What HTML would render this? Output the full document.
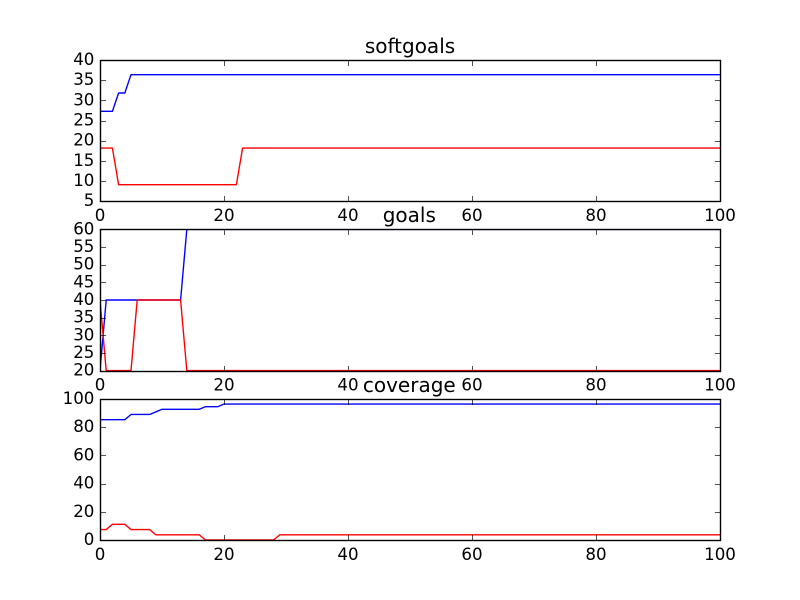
<!DOCTYPE html>
<html>
<head>
<meta charset="utf-8">
<title>softgoals, goals, coverage</title>
<style>
html,body{margin:0;padding:0;background:#fff;width:800px;height:600px;overflow:hidden}
svg{display:block}
text{font-family:"DejaVu Sans",sans-serif;fill:#000}
.tick-label{font-size:16.67px}
.title{font-size:20px;text-anchor:middle}
</style>
</head>
<body>
<svg id="chart" xmlns="http://www.w3.org/2000/svg" width="800" height="600" viewBox="0 0 800 600">
<rect width="800" height="600" fill="#fff"/>
<text class="title" x="410" y="53">softgoals</text>
<text class="title" x="409.3" y="222">goals</text>
<text class="title" x="409.3" y="392">coverage</text>
</svg>
<script>
// X axis
const xCategories = [0,1,2,3,4,5,6,7,8,9,10,11,12,13,14,15,16,17,18,19,20,21,22,23,24,25,26,27,28,29,30,31,32,33,34,35,36,37,38,39,40,41,42,43,44,45,46,47,48,49,50,51,52,53,54,55,56,57,58,59,60,61,62,63,64,65,66,67,68,69,70,71,72,73,74,75,76,77,78,79,80,81,82,83,84,85,86,87,88,89,90,91,92,93,94,95,96,97,98,99,100];
const xTickLabels = [0,20,40,60,80,100];

// Panel 1: softgoals
const softgoalsTicks = [5,10,15,20,25,30,35,40];
const softgoalsBlue = [27.27,27.27,27.27,31.82,31.82,36.36,36.36,36.36,36.36,36.36,36.36,36.36,36.36,36.36,36.36,36.36,36.36,36.36,36.36,36.36,36.36,36.36,36.36,36.36,36.36,36.36,36.36,36.36,36.36,36.36,36.36,36.36,36.36,36.36,36.36,36.36,36.36,36.36,36.36,36.36,36.36,36.36,36.36,36.36,36.36,36.36,36.36,36.36,36.36,36.36,36.36,36.36,36.36,36.36,36.36,36.36,36.36,36.36,36.36,36.36,36.36,36.36,36.36,36.36,36.36,36.36,36.36,36.36,36.36,36.36,36.36,36.36,36.36,36.36,36.36,36.36,36.36,36.36,36.36,36.36,36.36,36.36,36.36,36.36,36.36,36.36,36.36,36.36,36.36,36.36,36.36,36.36,36.36,36.36,36.36,36.36,36.36,36.36,36.36,36.36,36.36];
const softgoalsRed = [18.18,18.18,18.18,9.09,9.09,9.09,9.09,9.09,9.09,9.09,9.09,9.09,9.09,9.09,9.09,9.09,9.09,9.09,9.09,9.09,9.09,9.09,9.09,18.18,18.18,18.18,18.18,18.18,18.18,18.18,18.18,18.18,18.18,18.18,18.18,18.18,18.18,18.18,18.18,18.18,18.18,18.18,18.18,18.18,18.18,18.18,18.18,18.18,18.18,18.18,18.18,18.18,18.18,18.18,18.18,18.18,18.18,18.18,18.18,18.18,18.18,18.18,18.18,18.18,18.18,18.18,18.18,18.18,18.18,18.18,18.18,18.18,18.18,18.18,18.18,18.18,18.18,18.18,18.18,18.18,18.18,18.18,18.18,18.18,18.18,18.18,18.18,18.18,18.18,18.18,18.18,18.18,18.18,18.18,18.18,18.18,18.18,18.18,18.18,18.18,18.18];

// Panel 2: goals
const goalsTicks = [20,25,30,35,40,45,50,55,60];
const goalsBlue = [20,40,40,40,40,40,40,40,40,40,40,40,40,40,60,60,60,60,60,60,60,60,60,60,60,60,60,60,60,60,60,60,60,60,60,60,60,60,60,60,60,60,60,60,60,60,60,60,60,60,60,60,60,60,60,60,60,60,60,60,60,60,60,60,60,60,60,60,60,60,60,60,60,60,60,60,60,60,60,60,60,60,60,60,60,60,60,60,60,60,60,60,60,60,60,60,60,60,60,60,60];
const goalsRed = [40,20,20,20,20,20,40,40,40,40,40,40,40,40,20,20,20,20,20,20,20,20,20,20,20,20,20,20,20,20,20,20,20,20,20,20,20,20,20,20,20,20,20,20,20,20,20,20,20,20,20,20,20,20,20,20,20,20,20,20,20,20,20,20,20,20,20,20,20,20,20,20,20,20,20,20,20,20,20,20,20,20,20,20,20,20,20,20,20,20,20,20,20,20,20,20,20,20,20,20,20];

// Panel 3: coverage
const coverageTicks = [0,20,40,60,80,100];
const coverageBlue = [85.2,85.2,85.2,85.2,85.2,88.9,88.9,88.9,88.9,90.7,92.6,92.6,92.6,92.6,92.6,92.6,92.6,94.4,94.4,94.4,96.3,96.3,96.3,96.3,96.3,96.3,96.3,96.3,96.3,96.3,96.3,96.3,96.3,96.3,96.3,96.3,96.3,96.3,96.3,96.3,96.3,96.3,96.3,96.3,96.3,96.3,96.3,96.3,96.3,96.3,96.3,96.3,96.3,96.3,96.3,96.3,96.3,96.3,96.3,96.3,96.3,96.3,96.3,96.3,96.3,96.3,96.3,96.3,96.3,96.3,96.3,96.3,96.3,96.3,96.3,96.3,96.3,96.3,96.3,96.3,96.3,96.3,96.3,96.3,96.3,96.3,96.3,96.3,96.3,96.3,96.3,96.3,96.3,96.3,96.3,96.3,96.3,96.3,96.3,96.3,96.3];
const coverageRed = [7.4,7.4,11.1,11.1,11.1,7.4,7.4,7.4,7.4,3.7,3.7,3.7,3.7,3.7,3.7,3.7,3.7,0,0,0,0,0,0,0,0,0,0,0,0,3.7,3.7,3.7,3.7,3.7,3.7,3.7,3.7,3.7,3.7,3.7,3.7,3.7,3.7,3.7,3.7,3.7,3.7,3.7,3.7,3.7,3.7,3.7,3.7,3.7,3.7,3.7,3.7,3.7,3.7,3.7,3.7,3.7,3.7,3.7,3.7,3.7,3.7,3.7,3.7,3.7,3.7,3.7,3.7,3.7,3.7,3.7,3.7,3.7,3.7,3.7,3.7,3.7,3.7,3.7,3.7,3.7,3.7,3.7,3.7,3.7,3.7,3.7,3.7,3.7,3.7,3.7,3.7,3.7,3.7,3.7,3.7];

const svg = document.getElementById('chart');
const NS = 'http://www.w3.org/2000/svg';
const LEFT = 100, RIGHT = 720, XMAX = 100;

function xScale(v) { return LEFT + (v / XMAX) * (RIGHT - LEFT); }
function yScale(v, p) { return p.bottom - (v - p.min) / (p.max - p.min) * (p.bottom - p.top); }
function snap(v) { return Math.floor(v + 0.5) + 0.5; }

function make(tag, attrs) {
  const el = document.createElementNS(NS, tag);
  for (const k in attrs) el.setAttribute(k, attrs[k]);
  return el;
}

function drawTick(group, x1, y1, x2, y2, name) {
  const t = make('line', { x1: x1, y1: y1, x2: x2, y2: y2, stroke: '#000', 'stroke-width': 0.69 });
  
  
  group.appendChild(t);
}

function drawSeries(group, p, values, color, name) {
  const pts = xCategories.map((c, i) => xScale(c).toFixed(2) + ',' + yScale(values[i], p).toFixed(2)).join(' ');
  const line = make('polyline', { points: pts, fill: 'none', stroke: color, 'stroke-width': 1.39, 'stroke-linejoin': 'round', 'clip-path': 'url(#clip-' + p.key + ')' });
  
  
  group.appendChild(line);
}

function drawPanel(p) {
  const g = make('g', {});
  
  
  svg.appendChild(g);

  const yT = snap(p.top), yB = snap(p.bottom);
  const tickLen = 5.56;

  const clip = make('clipPath', { id: 'clip-' + p.key });
  clip.appendChild(make('rect', { x: LEFT, y: yT - 0.5, width: RIGHT - LEFT + 1, height: yB - yT + 1 }));
  g.appendChild(clip);

  drawSeries(g, p, p.blue, '#0000ff', p.key + '-blue-series');
  drawSeries(g, p, p.red, '#ff0000', p.key + '-red-series');

  xTickLabels.forEach(function (v) {
    const x = snap(xScale(v));
    drawTick(g, x, yB, x, yB - tickLen, p.key + '-x-tick');
    drawTick(g, x, yT, x, yT + tickLen, p.key + '-x-tick-top');
    const label = make('text', { class: 'tick-label', x: xScale(v), y: p.bottom + 20, 'text-anchor': 'middle' });
    label.textContent = v;
    
    
    g.appendChild(label);
  });

  p.ticks.forEach(function (v) {
    const y = snap(yScale(v, p));
    drawTick(g, LEFT + 0.5, y, LEFT + 0.5 + tickLen, y, p.key + '-y-tick');
    drawTick(g, RIGHT + 0.5, y, RIGHT + 0.5 - tickLen, y, p.key + '-y-tick-right');
    const label = make('text', { class: 'tick-label', x: 94.4, y: yScale(v, p) + 5, 'text-anchor': 'end' });
    label.textContent = v;
    
    
    g.appendChild(label);
  });

  const frame = make('rect', { x: LEFT + 0.5, y: yT, width: RIGHT - LEFT, height: yB - yT, fill: 'none', stroke: '#000', 'stroke-width': 1.39 });
  
  
  g.appendChild(frame);
}

drawPanel({ key: 'softgoals', top: 60, bottom: 201.18, min: 5, max: 40, ticks: softgoalsTicks, blue: softgoalsBlue, red: softgoalsRed });
drawPanel({ key: 'goals', top: 229.41, bottom: 370.59, min: 20, max: 60, ticks: goalsTicks, blue: goalsBlue, red: goalsRed });
drawPanel({ key: 'coverage', top: 398.82, bottom: 540, min: 0, max: 100, ticks: coverageTicks, blue: coverageBlue, red: coverageRed });

// Keep the panel titles above the tick labels they overlap.
svg.querySelectorAll('.title').forEach(function (t) { svg.appendChild(t); });
</script>
</body>
</html>
